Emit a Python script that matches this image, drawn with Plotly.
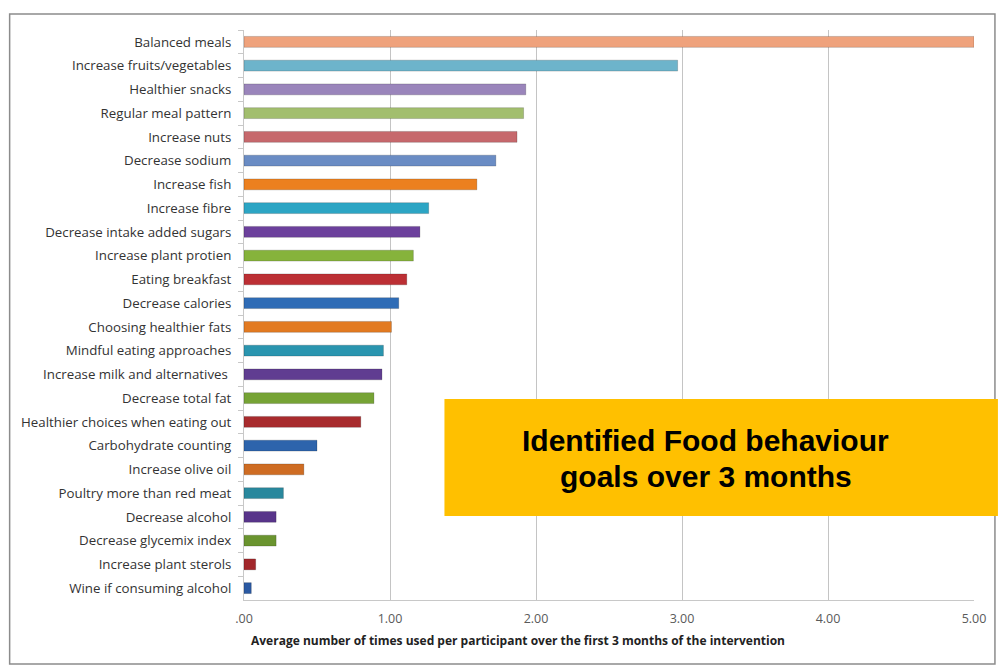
import plotly.graph_objects as go

categories = [
    "Balanced meals", "Increase fruits/vegetables", "Healthier snacks", "Regular meal pattern",
    "Increase nuts", "Decrease sodium", "Increase fish", "Increase fibre",
    "Decrease intake added sugars", "Increase plant protien", "Eating breakfast", "Decrease calories",
    "Choosing healthier fats", "Mindful eating approaches", "Increase milk and alternatives ",
    "Decrease total fat", "Healthier choices when eating out", "Carbohydrate counting",
    "Increase olive oil", "Poultry more than red meat", "Decrease alcohol",
    "Decrease glycemix index", "Increase plant sterols", "Wine if consuming alcohol",
]
values = [5.00, 2.97, 1.93, 1.915, 1.87, 1.725, 1.595, 1.265, 1.205, 1.16, 1.115, 1.06,
          1.01, 0.955, 0.945, 0.89, 0.80, 0.50, 0.41, 0.27, 0.22, 0.22, 0.08, 0.05]
bar_colors = [
    "#EFA27C", "#6DB4CB", "#9A85BB", "#A2BE6E", "#C6686C", "#6A8CC4", "#EC801F", "#2CA5C4",
    "#6C409C", "#86B33B", "#BC2F34", "#2F6CB6", "#E27A21", "#2A95AF", "#603D91", "#76A335",
    "#A82B2D", "#2D64AC", "#CE6C23", "#29889D", "#58348A", "#6A942F", "#A2272B", "#2A59A2",
]
tick_vals = [0, 1, 2, 3, 4, 5]
tick_text = [".00", "1.00", "2.00", "3.00", "4.00", "5.00"]
x_title = "Average number of times used per participant over the first 3 months of the intervention"
box_lines = ["Identified Food behaviour", "goals over 3 months"]

W, H = 998, 665
L, R, T, B = 244, 22, 30, 65
pw, ph = W - L - R, H - T - B


def px(x):
    return (x - L) / pw


def py(y):
    return (H - B - y) / ph


fig = go.Figure()
fig.add_trace(go.Bar(
    x=values, y=categories, orientation="h",
    marker=dict(color=bar_colors, line=dict(color="rgba(0,0,0,0.18)", width=1)),
    width=0.46, hoverinfo="x+y",
))

annotations = []
for i, line in enumerate(box_lines):
    annotations.append(dict(
        text="<b>" + line + "</b>", xref="paper", yref="paper", x=px(707), y=py(440 + 36 * i),
        showarrow=False, xanchor="center", yanchor="middle",
        font=dict(family="Liberation Sans, Arial, sans-serif", size=30, color="#000000")))
annotations.append(dict(
    text="<b>" + x_title + "</b>", xref="paper", yref="paper", x=px(519), y=py(640),
    showarrow=False, xanchor="center", yanchor="middle",
    font=dict(family="Open Sans, Liberation Sans, sans-serif", size=12, color="#222222")))

fig.update_layout(
    width=W, height=H,
    margin=dict(l=L, r=R, t=T, b=B),
    paper_bgcolor="white", plot_bgcolor="white",
    showlegend=False,
    font=dict(family="Open Sans, Liberation Sans, sans-serif", color="#333333"),
    xaxis=dict(
        range=[0, 5], tickvals=tick_vals, ticktext=tick_text,
        showgrid=True, gridcolor="#c4c4c4", gridwidth=1,
        showline=True, linecolor="#c8c8c8", linewidth=1, mirror=False,
        zeroline=False, ticks="", ticklabelstandoff=7,
        tickfont=dict(size=12.5, color="#5a5a5a"),
        fixedrange=True,
    ),
    yaxis=dict(
        autorange="reversed", type="category",
        showline=True, linecolor="#c8c8c8", linewidth=1,
        ticks="outside", tickson="boundaries", ticklen=5, tickcolor="#c8c8c8",
        ticklabelstandoff=9,
        tickfont=dict(size=13.3, color="#333333"),
        showgrid=False, fixedrange=True,
    ),
    shapes=[
        dict(type="rect", xref="paper", yref="paper",
             x0=px(9), x1=px(997), y0=py(664), y1=py(14),
             line=dict(color="#8c8c8c", width=1.5), fillcolor="rgba(0,0,0,0)", layer="below"),
        dict(type="rect", xref="paper", yref="paper",
             x0=px(445), x1=px(1000), y0=py(516), y1=py(399),
             line=dict(width=0), fillcolor="#FFC000", layer="above"),
    ],
    annotations=annotations,
)

fig.write_html("out.html")
